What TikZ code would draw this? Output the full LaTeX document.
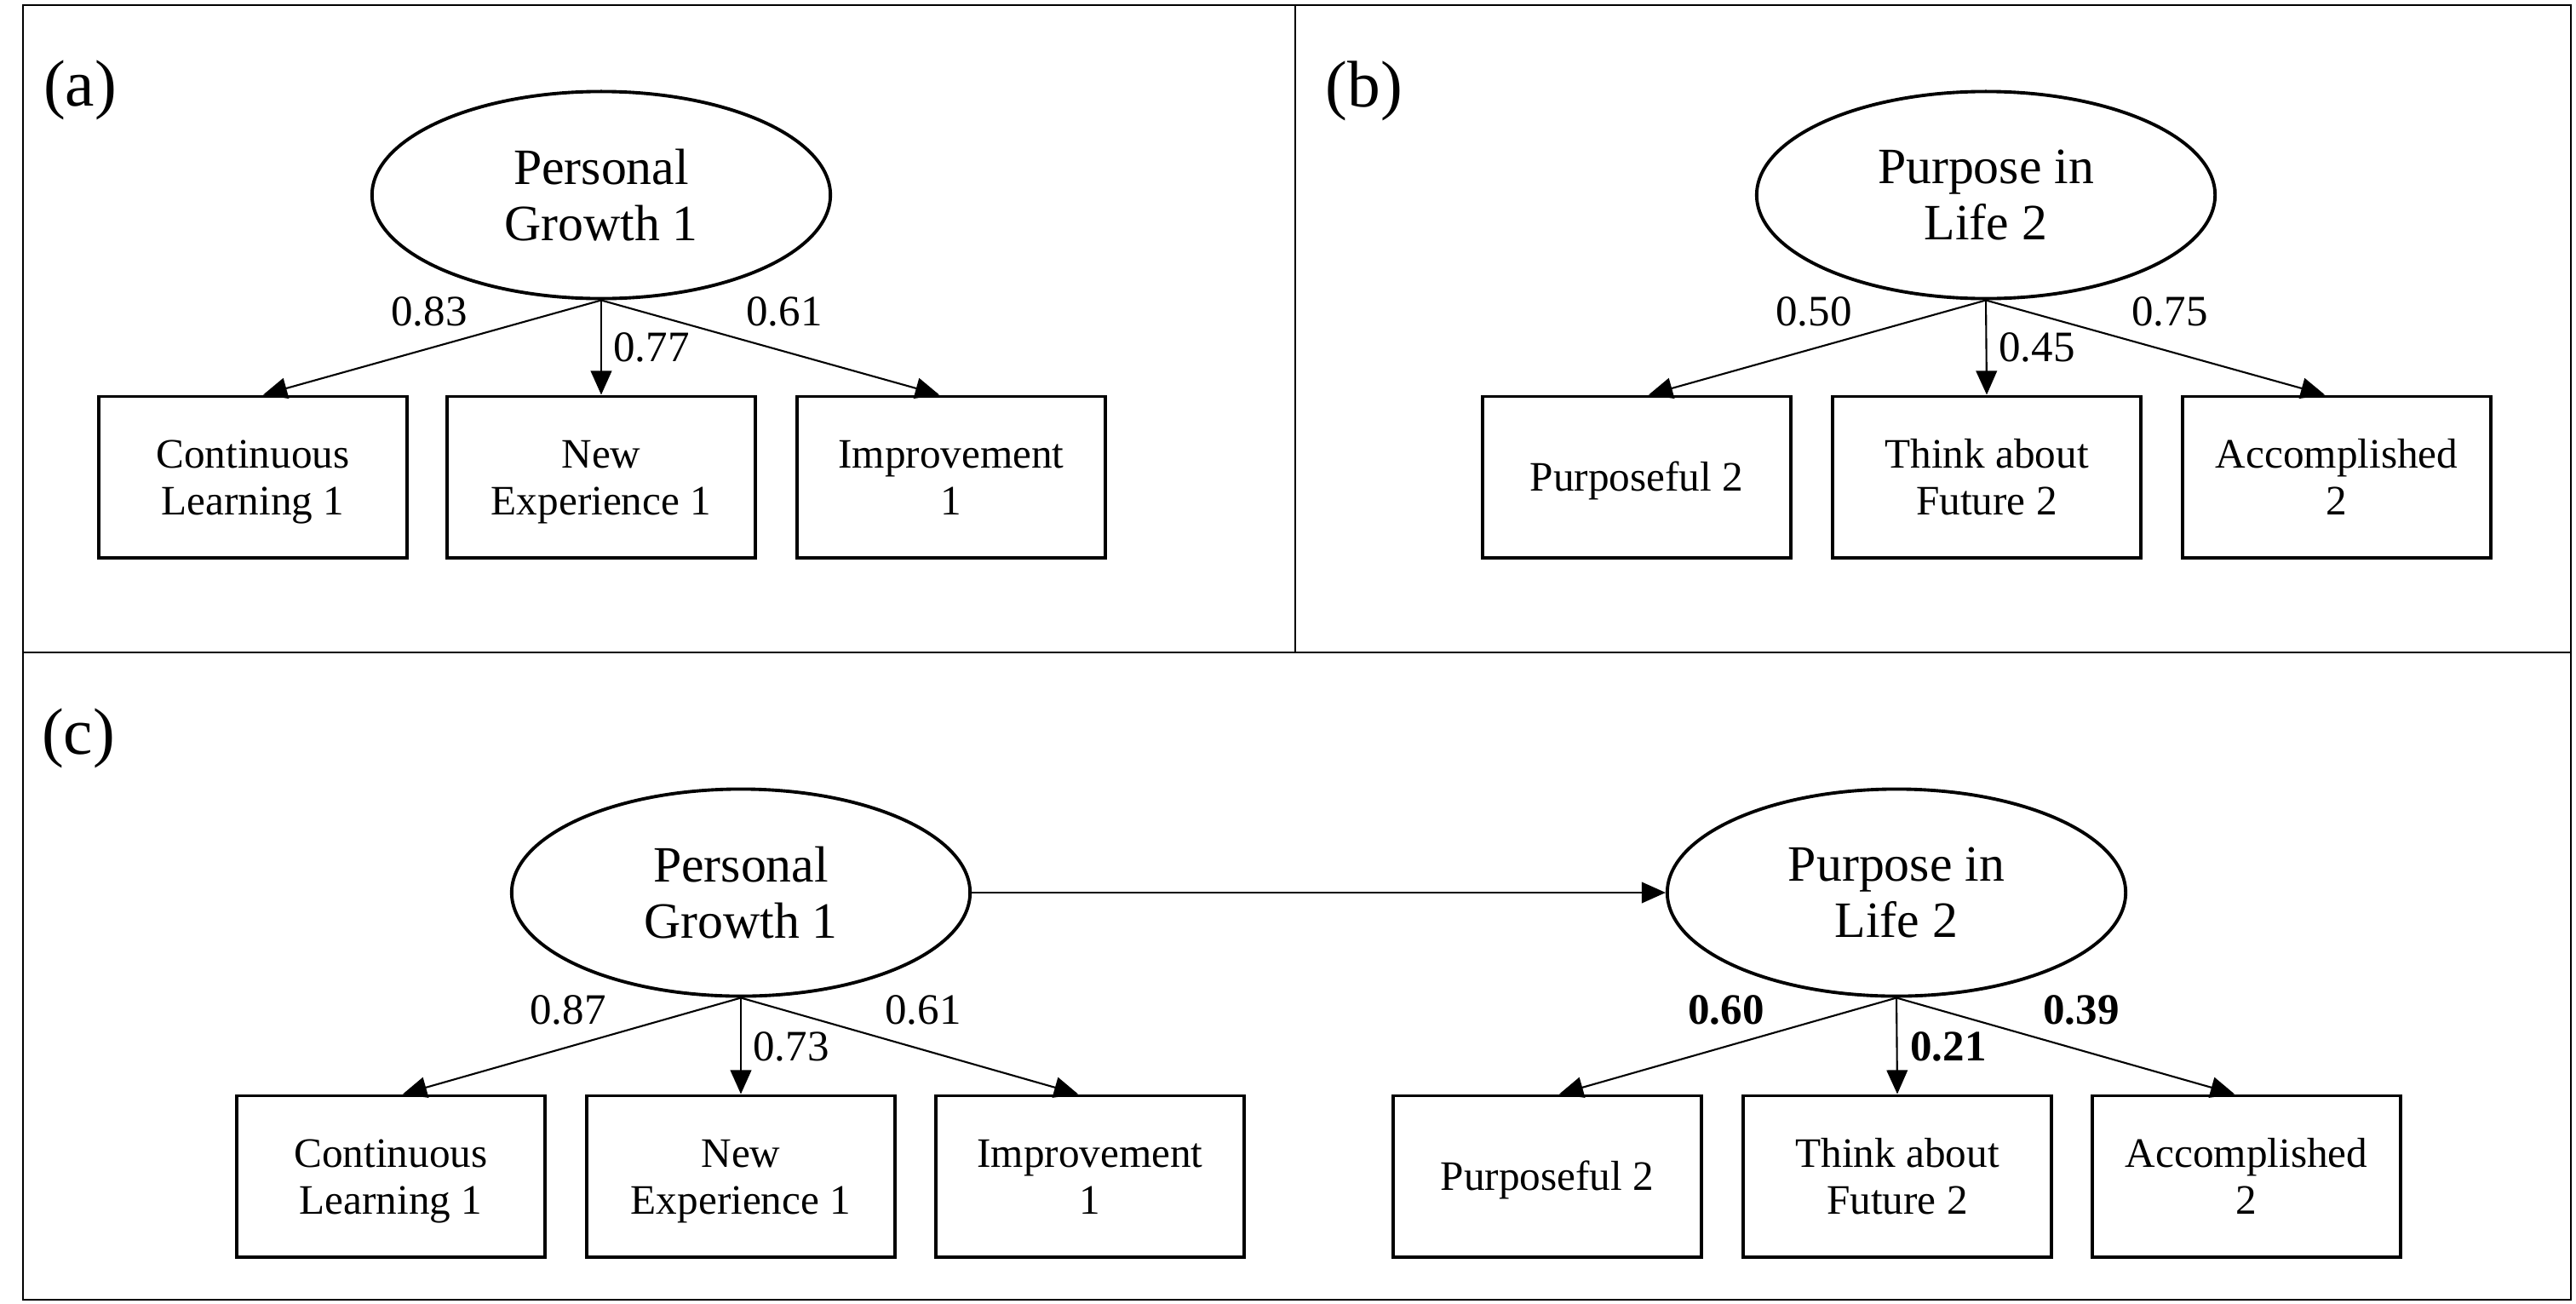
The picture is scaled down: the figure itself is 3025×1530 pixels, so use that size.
\documentclass[tikz,border=0pt]{standalone}
\usepackage{fontspec}
\setmainfont{Liberation Serif}
\usetikzlibrary{arrows.meta,shapes.geometric}
\newcommand\mystrut{\rule[-2.9pt]{0pt}{15.4pt}}
\begin{document}
\begin{tikzpicture}[x=0.01cm,y=-0.01cm,
 lat/.style={ellipse,draw,line width=1.1pt,minimum width=5.38cm,minimum height=2.43cm,inner sep=0pt,align=center,font=\fontsize{17}{18.8}\selectfont},
 obs/.style={rectangle,draw,line width=1.1pt,minimum width=3.62cm,minimum height=1.89cm,inner sep=0pt,align=center,font=\fontsize{14}{15.6}\selectfont},
 load/.style={font=\fontsize{14.5}{16}\selectfont,inner sep=0pt},
 plab/.style={font=\fontsize{22}{24}\selectfont,inner sep=0pt},
 arr/.style={-{Triangle[length=8pt,width=7pt]},line width=0.6pt},
 frame/.style={line width=0.8pt}]
\useasboundingbox (0,0) rectangle (3025,1530);
% frames
\draw[frame] (27,6) rectangle (3019,1526);
\draw[frame] (27,766) -- (3019,766);
\draw[frame] (1521,6) -- (1521,766);
% panel labels
\node[plab] (la) at (94,106) {(a)};
\node[plab] (lb) at (1602,107) {(b)};
\node[plab] (lc) at (92,867) {(c)};
% panel (a)
\node[lat] (pga) at (706,229) {Personal\\Growth 1};
\node[obs] (a1) at (297,560) {\mystrut Continuous\\\mystrut Learning 1};
\node[obs] (a2) at (706,560) {\mystrut New\\\mystrut Experience 1};
\node[obs] (a3) at (1117,560) {\mystrut Improvement\\\mystrut 1};
\draw[arr] (pga.south) -- ([xshift=0.12cm]a1.north);
\draw[arr] (pga.south) -- (a2.north);
\draw[arr] (pga.south) -- ([xshift=-0.14cm]a3.north);
\node[load] (na1) at (504,366) {0.83};
\node[load] (na2) at (765,408) {0.77};
\node[load] (na3) at (921,366) {0.61};
% panel (b)
\node[lat] (pilb) at (2332,229) {Purpose in\\Life 2};
\node[obs] (b1) at (1922,560) {\mystrut Purposeful 2};
\node[obs] (b2) at (2333,560) {\mystrut Think about\\\mystrut Future 2};
\node[obs] (b3) at (2744,560) {\mystrut Accomplished\\\mystrut 2};
\draw[arr] (pilb.south) -- ([xshift=0.14cm]b1.north);
\draw[arr] (pilb.south) -- (b2.north);
\draw[arr] (pilb.south) -- ([xshift=-0.14cm]b3.north);
\node[load] (nb1) at (2130,366) {0.50};
\node[load] (nb2) at (2392,408) {0.45};
\node[load] (nb3) at (2548,366) {0.75};
% panel (c)
\node[lat] (pgc) at (870,1048) {Personal\\Growth 1};
\node[lat] (pilc) at (2227,1048) {Purpose in\\Life 2};
\node[obs] (c1) at (459,1381) {\mystrut Continuous\\\mystrut Learning 1};
\node[obs] (c2) at (870,1381) {\mystrut New\\\mystrut Experience 1};
\node[obs] (c3) at (1280,1381) {\mystrut Improvement\\\mystrut 1};
\node[obs] (c4) at (1817,1381) {\mystrut Purposeful 2};
\node[obs] (c5) at (2228,1381) {\mystrut Think about\\\mystrut Future 2};
\node[obs] (c6) at (2638,1381) {\mystrut Accomplished\\\mystrut 2};
\draw[arr] (pgc.east) -- (pilc.west);
\draw[arr] (pgc.south) -- ([xshift=0.14cm]c1.north);
\draw[arr] (pgc.south) -- (c2.north);
\draw[arr] (pgc.south) -- ([xshift=-0.14cm]c3.north);
\draw[arr] (pilc.south) -- ([xshift=0.14cm]c4.north);
\draw[arr] (pilc.south) -- (c5.north);
\draw[arr] (pilc.south) -- ([xshift=-0.14cm]c6.north);
\node[load] (nc1) at (667,1186) {0.87};
\node[load] (nc2) at (929,1229) {0.73};
\node[load] (nc3) at (1084,1186) {0.61};
\node[load,font=\fontsize{14.5}{16}\selectfont\bfseries] (nc4) at (2027,1186) {0.60};
\node[load,font=\fontsize{14.5}{16}\selectfont\bfseries] (nc5) at (2288,1229) {0.21};
\node[load,font=\fontsize{14.5}{16}\selectfont\bfseries] (nc6) at (2444,1186) {0.39};
\end{tikzpicture}
\end{document}
